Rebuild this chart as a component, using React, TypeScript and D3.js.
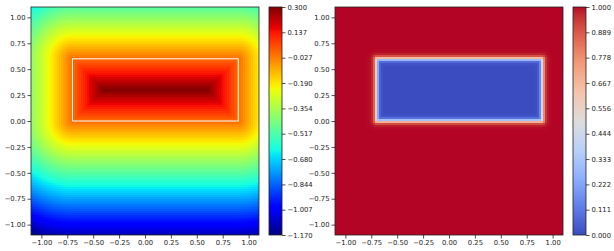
import React, { useRef, useEffect } from "react";
import * as d3 from "d3";

// plot domain and the rectangle that defines the field
const xDomain = [-1.1, 1.1];
const yDomain = [-1.1, 1.1];
const rectX = [-0.7, 0.9];
const rectY = [0.0, 0.6];

const axisTicks = [-1.0, -0.75, -0.5, -0.25, 0, 0.25, 0.5, 0.75, 1.0];
const sdfTicks = [-1.17, -1.007, -0.844, -0.68, -0.517, -0.354, -0.19, -0.027, 0.137, 0.3];
const maskTicks = [0, 0.111, 0.222, 0.333, 0.444, 0.556, 0.667, 0.778, 0.889, 1.0];

const coolwarmStops = ["#3b4cc0", "#5f7fe8", "#8db0fe", "#b9d0f9", "#dddcdc", "#f5c4ac", "#f39b7a", "#de604d", "#b40426"];
const sharpness = 80;
const gridN = 114;

const jetR = d3.scaleLinear([0, 0.35, 0.66, 0.89, 1], [0, 0, 1, 1, 0.5]).clamp(true);
const jetG = d3.scaleLinear([0, 0.125, 0.375, 0.64, 0.91, 1], [0, 0, 1, 1, 0, 0]).clamp(true);
const jetB = d3.scaleLinear([0, 0.11, 0.34, 0.65, 1], [0.5, 1, 1, 0, 0]).clamp(true);
const jet = (t: number) => d3.rgb(jetR(t) * 255, jetG(t) * 255, jetB(t) * 255).formatHex();

const coolwarm = d3
  .scaleLinear<string>()
  .domain(coolwarmStops.map((_, i) => i / (coolwarmStops.length - 1)))
  .range(coolwarmStops)
  .interpolate(d3.interpolateLab)
  .clamp(true);

// signed distance: positive inside, negative outside
function sdf(x: number, y: number) {
  const dx = Math.max(rectX[0] - x, 0, x - rectX[1]);
  const dy = Math.max(rectY[0] - y, 0, y - rectY[1]);
  if (dx === 0 && dy === 0) {
    return Math.min(x - rectX[0], rectX[1] - x, y - rectY[0], rectY[1] - y);
  }
  return -Math.sqrt(dx * dx + dy * dy);
}
const mask = (x: number, y: number) => 1 / (1 + Math.exp(sharpness * sdf(x, y)));

const top = 7;
const size = 228;
const panels = [
  { left: 31, cbar: 269, value: sdf, cmap: jet, ticks: sdfTicks, outline: true },
  { left: 335, cbar: 573, value: mask, cmap: coolwarm, ticks: maskTicks, outline: false },
];

function App() {
  const ref = useRef<SVGSVGElement>(null);

  useEffect(() => {
    document.body.style.margin = "0";
    const svg = d3.select(ref.current);
    svg.selectAll("*").remove();

    const cells: number[] = d3.range(gridN);

    panels.forEach((p) => {
      const x = d3.scaleLinear(xDomain, [p.left, p.left + size]);
      const y = d3.scaleLinear(yDomain, [top + size, top]);
      const cExt = [p.ticks[0], p.ticks[p.ticks.length - 1]];
      const norm = d3.scaleLinear(cExt, [0, 1]);
      const cy = d3.scaleLinear(cExt, [top + size, top]);
      const cw = size / gridN;

      const g = svg.append("g");
      const data: { i: number; j: number; v: number }[] = [];
      cells.forEach((i) =>
        cells.forEach((j) => {
          const px = x.invert(p.left + (i + 0.5) * cw);
          const py = y.invert(top + (j + 0.5) * cw);
          data.push({ i, j, v: p.value(px, py) });
        })
      );
      g.append("g")
        .attr("shape-rendering", "crispEdges")
        .selectAll("rect")
        .data(data)
        .join("rect")
        .attr("x", (d) => p.left + d.i * cw)
        .attr("y", (d) => top + d.j * cw)
        .attr("width", cw)
        .attr("height", cw)
        .attr("fill", (d) => p.cmap(norm(d.v)));

      if (p.outline) {
        g.append("rect")
          .attr("x", x(rectX[0]))
          .attr("y", y(rectY[1]))
          .attr("width", x(rectX[1]) - x(rectX[0]))
          .attr("height", y(rectY[0]) - y(rectY[1]))
          .attr("fill", "none")
          .attr("stroke", "white")
          .attr("stroke-width", 1);
      }

      g.append("rect")
        .attr("x", p.left)
        .attr("y", top)
        .attr("width", size)
        .attr("height", size)
        .attr("fill", "none")
        .attr("stroke", "#222")
        .attr("stroke-width", 0.8);

      const fmt2 = d3.format(".2f");
      const xa = g
        .append("g")
        .attr("transform", `translate(0,${top + size})`)
        .call(d3.axisBottom(x).tickValues(axisTicks).tickFormat((d) => fmt2(d as number)).tickSize(3.5).tickSizeOuter(0).tickPadding(2));
      const ya = g
        .append("g")
        .attr("transform", `translate(${p.left},0)`)
        .call(d3.axisLeft(y).tickValues(axisTicks).tickFormat((d) => fmt2(d as number)).tickSize(3.5).tickSizeOuter(0).tickPadding(2));

      // colorbar
      const cbw = 13;
      const steps = d3.range(size);
      g.append("g")
        .attr("shape-rendering", "crispEdges")
        .selectAll("rect")
        .data(steps)
        .join("rect")
        .attr("x", p.cbar)
        .attr("y", (s) => top + size - s - 1)
        .attr("width", cbw)
        .attr("height", 1.2)
        .attr("fill", (s) => p.cmap((s + 0.5) / size));
      g.append("rect")
        .attr("x", p.cbar)
        .attr("y", top)
        .attr("width", cbw)
        .attr("height", size)
        .attr("fill", "none")
        .attr("stroke", "#222")
        .attr("stroke-width", 0.8);
      const fmt3 = d3.format(".3f");
      const ca = g
        .append("g")
        .attr("transform", `translate(${p.cbar + cbw},0)`)
        .call(d3.axisRight(cy).tickValues(p.ticks).tickFormat((d) => fmt3(d as number)).tickSize(3.5).tickSizeOuter(0).tickPadding(2));

      [xa, ya, ca].forEach((a) => {
        a.select(".domain").remove();
        a.selectAll("line").attr("stroke", "#222").attr("stroke-width", 0.8);
        a.selectAll("text").attr("fill", "#222").attr("font-family", "DejaVu Sans").attr("font-size", 6.8);
      });
    });
  }, []);

  return (
    <svg
      ref={ref}
      width={614}
      height={251}
      style={{ display: "block", background: "white" }}
    />
  );
}

export default App;
